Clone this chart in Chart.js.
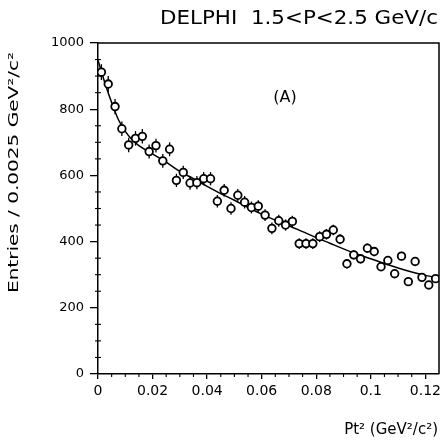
<!DOCTYPE html>
<html><head><meta charset="utf-8">
<script src="https://cdn.jsdelivr.net/npm/chart.js@4/dist/chart.umd.min.js"></script>
<style>html,body{margin:0;padding:0;background:#fff;overflow:hidden}canvas{display:block}</style>
</head><body>
<canvas id="c" width="448" height="442"></canvas>
<script>
const binCenters = [0.00125,0.00375,0.00625,0.00875,0.01125,0.01375,0.01625,0.01875,0.02125,0.02375,
  0.02625,0.02875,0.03125,0.03375,0.03625,0.03875,0.04125,0.04375,0.04625,0.04875,
  0.05125,0.05375,0.05625,0.05875,0.06125,0.06375,0.06625,0.06875,0.07125,0.07375,
  0.07625,0.07875,0.08125,0.08375,0.08625,0.08875,0.09125,0.09375,0.09625,0.09875,
  0.10125,0.10375,0.10625,0.10875,0.11125,0.11375,0.11625,0.11875,0.12125,0.12375];
const entries = [912,876,808,741,692,712,718,672,690,644,
  679,585,609,577,578,590,590,522,555,500,
  540,519,503,507,480,440,463,450,461,394,
  394,394,415,422,435,407,333,360,348,380,
  370,324,343,303,356,279,340,292,269,288];
const errors = [24,24,23,22,22,22,22,21,21,21,
  21,20,20,20,20,20,20,19,19,19,
  19,19,18,18,18,18,18,17,17,16,
  16,16,16,16,16,15,14,14,14,14,
  14,13,13,12,13,12,12,12,11,11];
const fitX = [0,0.0025,0.005,0.0075,0.01,0.0125,0.015,0.02,0.025,0.03,0.035,0.04,0.045,0.05,0.055,
  0.06,0.065,0.07,0.075,0.08,0.085,0.09,0.095,0.1,0.105,0.11,0.115,0.12,0.125];
const fitY = [948,880,820,768,733,708,690,665,640,612,590,567,545,525,503,
  483,465,448,430,412,395,378,362,348,334,320,308,298,290];
const xTicks = [0,0.02,0.04,0.06,0.08,0.1,0.12];
const xTickLabels = ['0','0.02','0.04','0.06','0.08','0.1','0.12'];
const yTicks = [0,200,400,600,800,1000];
const yTickLabels = ['0','200','400','600','800','1000'];
const titleText = 'DELPHI  1.5<P<2.5 GeV/c';
const panelLabel = '(A)';
const xTitle = 'Pt² (GeV²/c²)';
const yTitle = 'Entries / 0.0025 GeV²/c²';

const FONT = '"DejaVu Sans", "Liberation Sans", sans-serif';

const deco = {
  id: 'deco',
  beforeDatasetsDraw(chart) {
    const {ctx, scales: {x, y}} = chart;
    ctx.save();
    ctx.strokeStyle = '#000';
    ctx.lineWidth = 1.3;
    binCenters.forEach((cx, i) => {
      const px = x.getPixelForValue(cx);
      ctx.beginPath();
      ctx.moveTo(px, y.getPixelForValue(entries[i] - errors[i]));
      ctx.lineTo(px, y.getPixelForValue(entries[i] + errors[i]));
      ctx.stroke();
    });
    ctx.restore();
  },
  afterDraw(chart) {
    const {ctx, chartArea: a, scales: {x, y}} = chart;
    ctx.save();
    ctx.strokeStyle = '#000';
    ctx.lineWidth = 1.5;
    ctx.beginPath();
    ctx.moveTo(a.left, a.top); ctx.lineTo(a.right, a.top); ctx.lineTo(a.right, a.bottom);
    ctx.stroke();
    ctx.lineWidth = 1.1;
    for (let v = 50; v < 1000; v += 50) {
      if (v % 200 === 0) continue;
      const py = y.getPixelForValue(v);
      ctx.beginPath(); ctx.moveTo(a.left - 3, py); ctx.lineTo(a.left + 3, py); ctx.stroke();
    }
    for (let k = 1; k < 25; k++) {
      if (k % 4 === 0) continue;
      const px = x.getPixelForValue(k * 0.005);
      ctx.beginPath(); ctx.moveTo(px, a.bottom); ctx.lineTo(px, a.bottom + 3); ctx.stroke();
    }
    ctx.fillStyle = '#000';
    // title, stretched to the reference width
    ctx.save();
    ctx.font = '20px ' + FONT;
    ctx.textAlign = 'left';
    ctx.textBaseline = 'alphabetic';
    const tw = ctx.measureText(titleText).width;
    ctx.translate(160, 24);
    ctx.scale(278 / tw, 1);
    ctx.fillText(titleText, 0, 0);
    ctx.restore();
    ctx.font = '16px ' + FONT;
    ctx.textAlign = 'center';
    ctx.textBaseline = 'middle';
    ctx.fillText(panelLabel, 285, 98);
    ctx.font = '15px ' + FONT;
    ctx.textAlign = 'right';
    ctx.textBaseline = 'alphabetic';
    ctx.fillText(xTitle, 438, 434);
    ctx.save();
    ctx.translate(14, 293);
    ctx.rotate(-Math.PI / 2);
    ctx.font = '14px ' + FONT;
    const w = ctx.measureText(yTitle).width;
    ctx.scale(241 / w, 1);
    ctx.textAlign = 'left';
    ctx.textBaseline = 'middle';
    ctx.fillText(yTitle, 0, 0);
    ctx.restore();
    ctx.restore();
  }
};

new Chart(document.getElementById('c'), {
  type: 'scatter',
  data: {
    datasets: [
      {
        type: 'line',
        data: fitX.map((v, i) => ({x: v, y: fitY[i]})),
        borderColor: '#000',
        borderWidth: 1.5,
        pointRadius: 0,
        fill: false,
        cubicInterpolationMode: 'monotone',
        order: 2
      },
      {
        data: binCenters.map((v, i) => ({x: v, y: entries[i]})),
        pointStyle: 'circle',
        pointRadius: 3.8,
        pointBorderWidth: 1.8,
        pointBackgroundColor: '#fff',
        pointBorderColor: '#000',
        showLine: false,
        order: 1
      }
    ]
  },
  options: {
    responsive: false,
    animation: false,
    devicePixelRatio: 1,
    layout: {padding: {top: 43, right: 9, left: 0, bottom: 0}},
    plugins: {legend: {display: false}, tooltip: {enabled: false}, title: {display: false}},
    scales: {
      x: {
        type: 'linear', min: 0, max: 0.125,
        afterBuildTicks: s => { s.ticks = xTicks.map(v => ({value: v})); },
        afterFit: s => { s.height = 68; },
        ticks: {
          callback: (v, i) => xTickLabels[i],
          font: {family: FONT, size: 14}, color: '#000', padding: 4,
          maxRotation: 0, autoSkip: false
        },
        grid: {drawOnChartArea: false, drawTicks: true, tickLength: 5, color: '#000', lineWidth: 1.3},
        border: {color: '#000', width: 1.5}
      },
      y: {
        type: 'linear', min: 0, max: 1000,
        afterBuildTicks: s => { s.ticks = yTicks.map(v => ({value: v})); },
        afterFit: s => { s.width = 98; },
        ticks: {
          callback: (v, i) => yTickLabels[i],
          font: {family: FONT, size: 13}, color: '#000', padding: 6
        },
        grid: {drawOnChartArea: false, drawTicks: true, tickLength: 8, color: '#000', lineWidth: 1.3},
        border: {color: '#000', width: 1.5}
      }
    }
  },
  plugins: [deco]
});
</script>
</body></html>
